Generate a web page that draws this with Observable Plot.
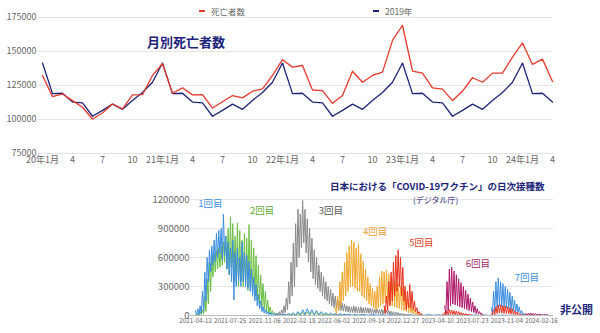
<!DOCTYPE html>
<html><head><meta charset="utf-8">
<script src="https://cdn.jsdelivr.net/npm/d3@7"></script>
<script src="https://cdn.jsdelivr.net/npm/@observablehq/plot@0.6"></script>
<style>
body{margin:0;background:#fff;width:600px;height:333px;position:relative;overflow:hidden;font-family:"Noto Sans CJK JP",sans-serif}
.abs{position:absolute;line-height:1;white-space:nowrap}
#top{position:absolute;left:0;top:0}
#bot{position:absolute;left:0;top:175px}
</style></head><body>
<div id="top"></div><div id="bot"></div>
<div class="abs" style="left:199px;top:10px;width:6px;height:2px;background:#e8392b"></div>
<div class="abs" style="left:211px;top:6.5px;font-size:8.5px;color:#666">死亡者数</div>
<div class="abs" style="left:373px;top:10px;width:6px;height:2px;background:#1b237a"></div>
<div class="abs" style="left:385px;top:6.5px;font-size:8.5px;color:#666">2019年</div>
<div class="abs" style="left:147px;top:35px;font-size:13px;font-weight:bold;color:#1b237a">月別死亡者数</div>
<div class="abs" style="left:330px;top:182px;font-size:9.5px;font-weight:bold;color:#1b237a">日本における「COVID-19ワクチン」の日次接種数</div>
<div class="abs" style="left:413px;top:196px;font-size:8px;color:#1b237a">(デジタル庁)</div>
<div class="abs" style="left:560px;top:304px;font-size:11px;font-weight:bold;color:#1b237a">非公開</div>
<script>
// ---------- Top chart: monthly deaths ----------
const xTickIdx = [0,3,6,9,12,15,18,21,24,27,30,33,36,39,42,45,48,51];
const xTickLabels = ["20年1月","4","7","10","21年1月","4","7","10","22年1月","4","7","10","23年1月","4","7","10","24年1月","4"];
const yTicksTop = [75000,100000,125000,150000,175000];
// Jan 2020 .. Apr 2024
const deaths = [
  132400,116800,118800,113900,109000,100400,104800,111400,107800,118100,118300,132400,
  141000,119300,123300,118100,118300,108400,113100,117600,115900,120800,122500,132400,
  144000,138500,139700,121700,121300,111900,117600,135500,127400,132400,134800,158200,
  169300,135500,134100,123300,122300,113900,120800,130700,127400,134100,134100,145900,
  156300,140500,144400,127900
];
// 2019 monthly (Jan..Dec), repeated each year
const deaths2019 = [141500,119000,119300,112800,112200,102400,106700,111300,107500,114000,119800,127400];

const rowsDeaths = deaths.map((v,i)=>({i, v}));
const rows2019 = deaths.map((_,i)=>({i, v: deaths2019[i % 12]}));

const fontFam = "'Noto Sans CJK JP', sans-serif";

const topPlot = Plot.plot({
  width: 600, height: 170,
  marginLeft: 38, marginRight: 48, marginTop: 17, marginBottom: 17,
  style: {fontFamily: fontFam, fontSize: "9px", background: "transparent"},
  x: {domain: [-0.4, 51], axis: null},
  y: {domain: [75000, 175000], axis: null},
  marks: [
    Plot.gridY(yTicksTop, {stroke: "#e4e4e4", strokeOpacity: 1}),
    Plot.axisY({ticks: yTicksTop, tickSize: 0, tickPadding: 2, tickFormat: d => String(d), color: "#666", fontSize: 9, label: null}),
    Plot.axisX({ticks: xTickIdx, tickSize: 0, tickPadding: 3, tickFormat: d => xTickLabels[xTickIdx.indexOf(d)], color: "#666", fontSize: 9, label: null}),
    Plot.line(rows2019, {x: "i", y: "v", stroke: "#1b237a", strokeWidth: 1.3}),
    Plot.line(rowsDeaths, {x: "i", y: "v", stroke: "#e8392b", strokeWidth: 1.3})
  ]
});
document.getElementById("top").appendChild(topPlot);

// ---------- Bottom chart: daily vaccinations (thousands), weekly high/low readings ----------
const dateTicks = ["2021-04-12","2021-07-25","2021-11-06","2022-02-18","2022-06-02","2022-09-14","2022-12-27","2023-04-10","2023-07-23","2023-11-04","2024-02-16"];
const yTicksBot = [0,300000,600000,900000,1200000];

const dose1 = [
  {s:"2021-04-12", step:3.5, v:[50,5, 70,10, 100,20, 250,50, 450,150, 600,350, 680,450, 720,520, 780,560, 850,600, 880,640, 900,580, 1050,620, 820,480, 760,420, 700,350, 780,160, 650,300, 700,350, 600,300, 760,350, 650,300, 620,280, 560,250, 480,200, 400,150, 320,100, 220,70, 150,40, 90,25, 60,15, 40,10, 30,8, 25,6, 20,5, 20,5]},
  {s:"2021-12-20", step:7, v:[15,4,15,4,20,5,30,6,40,8,60,10,70,12,60,10,50,10,40,8,30,6,25,5,20,5,20,4,15,4,15,3]},
  {s:"2022-08-01", step:14, v:[12,3,10,3,10,3,8,2,10,3,8,2,8,2,6,2,8,2,6,2,6,2,5,2,6,2,5,1,5,1,4,1,4,1,4,1,3,1,3,1,3,1,3]}
];
const dose2 = [
  {s:"2021-04-12", step:3.5, v:[5,2, 20,5, 40,10, 60,15, 200,40, 380,120, 550,250, 600,400, 640,450, 680,480, 700,500, 720,520, 760,550, 820,480, 900,420, 1020,500, 950,400, 820,350, 960,300, 880,350, 780,300, 850,300, 800,260, 940,300, 780,250, 700,200, 620,160, 520,120, 420,90, 330,60, 250,40, 160,25, 90,15, 50,10, 30,8, 20,5]},
  {s:"2021-12-20", step:7, v:[15,4,12,3,10,3,15,4,20,5,30,5,35,6,30,6,25,5,20,4,15,4,12,3,10,3,8,2,8,2,6,2,5,1,4,1]}
];
const dose3 = [
  {s:"2021-12-13", step:3.5, v:[20,5, 40,10, 60,20, 100,30, 180,60, 350,120, 550,200, 750,300, 950,500, 1100,600, 1050,700, 1190,750, 1100,650, 1000,550, 900,450, 800,380, 680,320, 600,280, 520,250, 450,200, 400,170, 350,150, 300,120, 270,100, 230,80, 200,70, 170,60, 150,50, 130,45, 120,40, 100,35, 95,30, 90,30, 100,30, 90,28, 85,25, 90,25, 80,25, 85,25, 80,22, 75,20, 70,20, 65,20, 70,18, 60,18, 65,15, 60,15, 55,15, 50,12, 45,12, 40,10, 35,10, 30,8, 25,6, 20,5, 15,4, 10,3]}
];
const dose4 = [
  {s:"2022-06-06", step:3.5, v:[80,20, 200,50, 350,100, 450,150, 550,200, 650,250, 720,300, 780,300, 760,280, 700,250, 740,250, 640,200, 560,180, 480,150, 400,120, 330,100, 280,80, 250,60, 300,80, 400,100, 460,120, 450,130, 470,120, 430,110, 400,100, 380,90, 350,80, 330,70, 300,60, 280,50, 230,40, 180,30, 130,25, 90,15, 60,10, 30,5, 15,3]}
];
const dose5 = [
  {s:"2022-10-31", step:3.5, v:[100,20, 200,50, 350,100, 450,150, 550,200, 620,250, 680,300, 600,200, 500,150, 300,60, 250,80, 320,80, 250,60, 150,40, 80,20, 40,10, 20,5]},
  {s:"2023-04-24", step:3.5, v:[10,3, 30,5, 50,10, 60,12, 55,10, 50,10, 45,8, 40,8, 30,6, 25,5, 20,4, 15,3, 10,2]},
  {s:"2023-09-18", step:3.5, v:[20,5, 60,10, 90,20, 110,25, 110,25, 100,22, 100,20, 90,18, 80,15, 70,12, 50,10, 35,8, 20,5, 10,3]}
];
const dose6 = [
  {s:"2023-05-01", step:3.5, v:[100,20, 350,50, 480,100, 500,120, 460,110, 420,100, 380,90, 340,80, 300,70, 260,60, 220,50, 180,40, 140,30, 100,20, 70,15, 40,10, 20,5]},
  {s:"2023-12-25", step:3.5, v:[10,2, 20,4, 25,5, 25,5, 20,4, 20,4, 15,3, 15,3, 10,2, 10,2, 8,2]}
];
const dose7 = [
  {s:"2023-09-18", step:3.5, v:[80,20, 250,50, 350,80, 390,100, 350,90, 330,85, 300,80, 270,70, 240,60, 200,50, 160,40, 120,30, 90,20, 50,10, 20,5]}
];

const doseColors = {d1:"#3b8de0", d2:"#6cbf45", d3:"#8a8a8a", d4:"#f0a82e", d5:"#e8321e", d6:"#b0186a", d7:"#3b8de0"};
const labels = [
  {date:"2021-05-27", value:1158600, text:"1回目", color:"#3b8de0"},
  {date:"2021-10-29", value:1079000, text:"2回目", color:"#5aac2e"},
  {date:"2022-05-24", value:1079000, text:"3回目", color:"#555555"},
  {date:"2022-10-04", value:861700, text:"4回目", color:"#f0a030"},
  {date:"2023-02-20", value:747900, text:"5回目", color:"#e23a26"},
  {date:"2023-08-09", value:537900, text:"6回目", color:"#9e1f63"},
  {date:"2024-01-03", value:393100, text:"7回目", color:"#3b8de0"}
];

const DAY = 864e5;
const toDate = s => new Date(s + "T00:00:00Z");
function rowsOf(segs, name) {
  const out = [];
  segs.forEach((seg, k) => {
    const t0 = toDate(seg.s).getTime();
    seg.v.forEach((val, j) => out.push({date: new Date(t0 + j * seg.step * DAY), value: val * 1000, key: name + "_" + k}));
  });
  return out;
}
const series = [["d2",dose2],["d1",dose1],["d3",dose3],["d4",dose4],["d6",dose6],["d7",dose7],["d5",dose5]];
const lineMarks = series.map(([name, segs]) =>
  Plot.line(rowsOf(segs, name), {x: "date", y: "value", z: "key", stroke: doseColors[name], strokeWidth: 1, clip: true}));

const labelRows = labels.map(d => ({...d, date: toDate(d.date)}));

const botPlot = Plot.plot({
  width: 600, height: 158,
  marginLeft: 190, marginRight: 47, marginTop: 24, marginBottom: 18,
  style: {fontFamily: fontFam, fontSize: "9px", background: "transparent"},
  x: {type: "utc", domain: [toDate("2021-03-28"), toDate("2024-03-23")], axis: null},
  y: {domain: [0, 1200000], axis: null},
  color: {type: "identity"},
  marks: [
    Plot.gridY(yTicksBot, {stroke: "#e6e6e6", strokeOpacity: 1}),
    Plot.ruleY([0], {stroke: "#bdbdbd"}),
    Plot.axisY({ticks: yTicksBot, tickSize: 0, tickPadding: 1, tickFormat: d => String(d), color: "#666", fontSize: 9.5, label: null}),
    Plot.axisX({ticks: dateTicks.map(toDate), tickSize: 0, tickPadding: 3, tickFormat: d3.utcFormat("%Y-%m-%d"), color: "#666", fontSize: 6.3, label: null}),
    ...lineMarks,
    Plot.text(labelRows, {x: "date", y: "value", text: "text", fill: "color", fontSize: 9.5})
  ]
});
document.getElementById("bot").appendChild(botPlot);
</script>
</body></html>
